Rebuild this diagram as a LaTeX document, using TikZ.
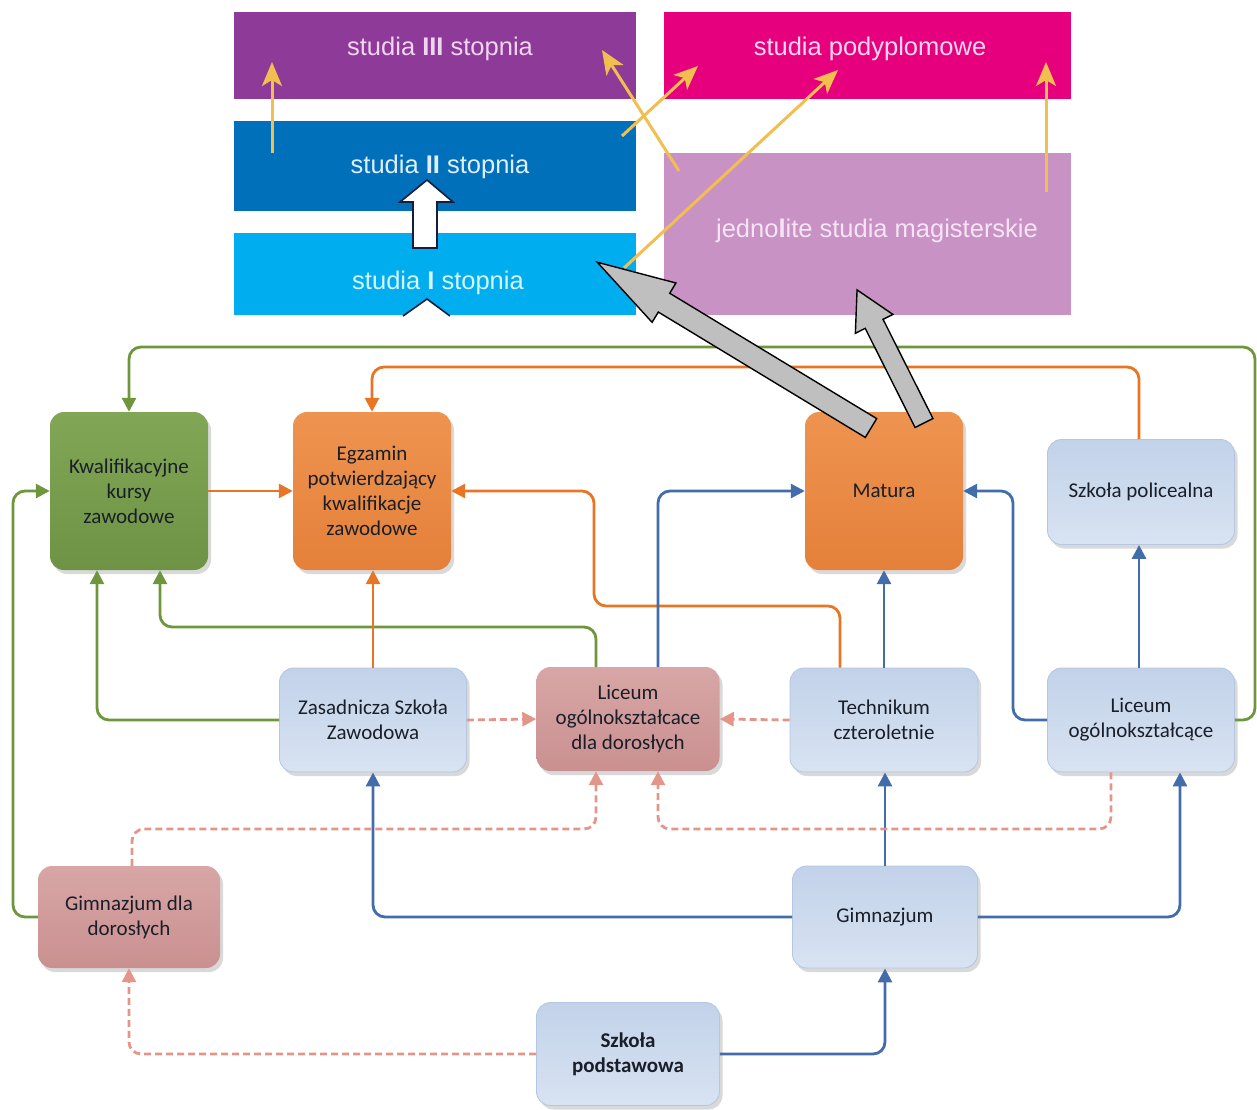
\documentclass[tikz,border=0pt]{standalone}
\usepackage{fontspec}
\setmainfont{Carlito}
\newfontfamily\arialf{Liberation Sans}
\usetikzlibrary{arrows.meta,shadows,calc}
\definecolor{cIII}{RGB}{142,58,152}
\definecolor{cII}{RGB}{0,112,186}
\definecolor{cI}{RGB}{0,174,239}
\definecolor{cpod}{RGB}{230,0,126}
\definecolor{cjed}{RGB}{200,146,196}
\definecolor{tIII}{RGB}{240,212,240}
\definecolor{tII}{RGB}{222,240,255}
\definecolor{tI}{RGB}{215,245,255}
\definecolor{tpod}{RGB}{255,215,240}
\definecolor{tjed}{RGB}{246,228,246}
\definecolor{yel}{RGB}{243,190,80}
\definecolor{navy}{RGB}{20,30,60}
\definecolor{gtop}{RGB}{128,166,86}
\definecolor{gbot}{RGB}{110,147,68}
\definecolor{otop}{RGB}{238,148,80}
\definecolor{obot}{RGB}{228,128,58}
\definecolor{btop}{RGB}{194,210,233}
\definecolor{bbot}{RGB}{216,227,242}
\definecolor{bdraw}{RGB}{180,198,225}
\definecolor{ptop}{RGB}{216,166,166}
\definecolor{pbot}{RGB}{202,144,144}
\definecolor{lgreen}{RGB}{110,150,60}
\definecolor{lorange}{RGB}{232,117,35}
\definecolor{lblue}{RGB}{66,108,170}
\definecolor{ldash}{RGB}{226,150,138}
\definecolor{txt}{RGB}{25,30,40}
\begin{document}
\begin{tikzpicture}[x=1pt,y=-1pt,
  box/.style={rounded corners=14pt, inner sep=0pt, align=center,
    font=\fontsize{21}{25}\selectfont, text=txt,
    drop shadow={shadow xshift=3pt,shadow yshift=-4pt,opacity=0.3,fill=gray}},
  gbox/.style={box, top color=gtop, bottom color=gbot, minimum width=158pt, minimum height=158pt},
  obox/.style={box, top color=otop, bottom color=obot, minimum width=158pt, minimum height=158pt},
  bbox/.style={box, top color=btop, bottom color=bbot, draw=bdraw, line width=0.8pt},
  pbox/.style={box, top color=ptop, bottom color=pbot},
  toptxt/.style={font=\arialf\fontsize{25.5}{30}\selectfont, inner sep=0pt},
  conn/.style={line width=2.8pt, rounded corners=12pt, -{Triangle[length=14pt,width=14pt]}},
  gline/.style={conn, draw=lgreen},
  oline/.style={conn, draw=lorange},
  bline/.style={conn, draw=lblue},
  dline/.style={conn, draw=ldash, dash pattern=on 7pt off 4pt},
  yarrow/.style={draw=yel, line width=3pt, -{Stealth[length=24pt,width=20pt,inset=6pt]}},
  grayarr/.style={fill=black!25, draw=black, line width=1.4pt, line join=miter}
]
\useasboundingbox (0,0) rectangle (1257,1109);
% top blocks
\fill[cIII] (234,12) rectangle (636,99);
\fill[cII] (234,121) rectangle (636,211);
\fill[cI] (234,233) rectangle (636,315);
\fill[cpod] (664,12) rectangle (1071,99);
\fill[cjed] (664,153) rectangle (1071,315);
\node[toptxt, text=tIII] (t3) at (440,49) {studia \textbf{III} stopnia};
\node[toptxt, text=tII] (t2) at (440,167) {studia \textbf{II} stopnia};
\node[toptxt, text=tI] (t1) at (438,283) {studia \textbf{I} stopnia};
\node[toptxt, text=tpod] (tp) at (870,49) {studia podyplomowe};
\node[toptxt, text=tjed] (tj) at (877,231) {jedno\textbf{l}ite studia magisterskie};
% yellow arrows
\coordinate (ya1) at (272,153); \coordinate (yb1) at (272,62);
\coordinate (ya2) at (679,171); \coordinate (yb2) at (602,50);
\coordinate (ya3) at (622,136); \coordinate (yb3) at (698,66);
\coordinate (ya4) at (624,268); \coordinate (yb4) at (838,70);
\coordinate (ya5) at (1046,192); \coordinate (yb5) at (1046,62);
\draw[yarrow] (ya1) -- (yb1);
\draw[yarrow] (ya2) -- (yb2);
\draw[yarrow] (ya3) -- (yb3);
\draw[yarrow] (ya4) -- (yb4);
\draw[yarrow] (ya5) -- (yb5);
% white block arrows
\draw[fill=white, draw=navy, line width=1.6pt, line join=miter] (413,248) -- (413,202) -- (400,202) -- (427,180) -- (453,202) -- (437,202) -- (437,248) -- cycle;
\draw[fill=white, draw=navy, line width=1.6pt, line join=miter] (403,316) -- (427,299) -- (450,316);
% nodes
\node[gbox] (kkz) at (129,491) {Kwalifikacyjne\\kursy\\zawodowe};
\node[obox] (egz) at (372,491) {Egzamin\\potwierdzający\\kwalifikacje\\zawodowe};
\node[obox] (mat) at (884,491) {Matura};
\node[bbox, minimum width=187pt, minimum height=105pt] (pol) at (1141,492) {Szkoła policealna};
\node[bbox, minimum width=187pt, minimum height=104pt] (zsz) at (373,720) {Zasadnicza Szkoła\\Zawodowa};
\node[pbox, minimum width=183pt, minimum height=104pt] (lod) at (628,719) {Liceum\\ogólnokształcace\\dla dorosłych};
\node[bbox, minimum width=188pt, minimum height=104pt] (tech) at (884,720) {Technikum\\czteroletnie};
\node[bbox, minimum width=187pt, minimum height=104pt] (lo) at (1141,720) {Liceum\\ogólnokształcące};
\node[pbox, minimum width=182pt, minimum height=102pt] (gdd) at (129,917) {Gimnazjum dla\\dorosłych};
\node[bbox, minimum width=185pt, minimum height=102pt] (gim) at (885,917) {Gimnazjum};
\node[bbox, minimum width=183pt, minimum height=103pt, font=\bfseries\fontsize{21}{25}\selectfont] (sp) at (628,1054) {Szkoła\\podstawowa};
% green connectors
\draw[gline] (lo.east) -| (1255,347) -| (kkz.north);
\draw[gline] (gdd.west) -| (13,491) -- (kkz.west);
\draw[gline] (zsz.west) -| ([xshift=-32pt]kkz.south);
\draw[gline] ([xshift=-32pt]lod.north) |- (160,627) -- ([xshift=31pt]kkz.south);
% orange connectors
\draw[oline] (kkz.east) -- (egz.west);
\draw[oline] ([xshift=-2pt]pol.north) |- (372,367) -- (egz.north);
\draw[oline] (zsz.north) -- (zsz.north |- egz.south);
\draw[oline] ([xshift=-44pt]tech.north) |- (594,606) |- (egz.east);
% blue connectors
\draw[bline] ([xshift=30pt]lod.north) |- (mat.west);
\draw[bline] (tech.north) -- (mat.south);
\draw[bline] (lo.west) -| (1013,491) -- (mat.east);
\draw[bline] ([xshift=-2pt]lo.north) -- ([xshift=-2pt]pol.south);
\draw[bline] (gim.north) -- (gim.north |- tech.south);
\draw[bline] (gim.west) -| (zsz.south);
\draw[bline] (gim.east) -| ([xshift=39pt]lo.south);
\draw[bline] (sp.east) -| (gim.south);
% dashed connectors
\draw[dline] (zsz.east) -- (lod.west);
\draw[dline] (tech.west) -- (lod.east);
\draw[dline] ([xshift=3pt]gdd.north) |- (596,829) -- ([xshift=-32pt]lod.south);
\draw[dline] ([xshift=-30pt]lo.south) |- (658,829) -- ([xshift=30pt]lod.south);
\draw[dline] (sp.west) -| (gdd.south);
% gray block arrows
\begin{scope}[shift={(871,428)}, rotate=148.8]
\draw[grayarr] (0,-11) -- (242,-11) -- (242,-23) -- (320,0) -- (242,23) -- (242,11) -- (0,11) -- cycle;
\end{scope}
\begin{scope}[shift={(924,423)}, rotate=116.7]
\draw[grayarr] (0,-10) -- (111,-10) -- (111,-21) -- (149,0) -- (111,21) -- (111,10) -- (0,10) -- cycle;
\end{scope}
\end{tikzpicture}
\end{document}
